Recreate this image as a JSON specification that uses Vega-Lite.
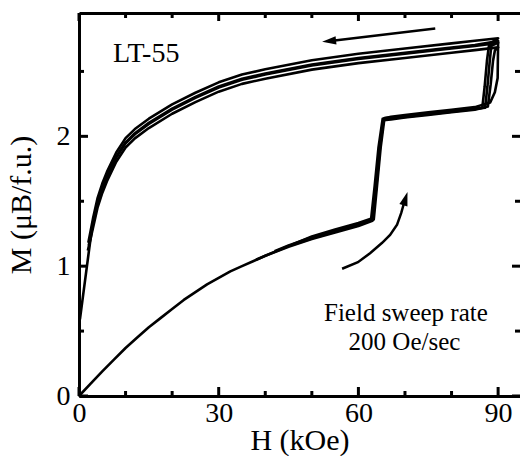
{
  "$schema": "https://vega.github.io/schema/vega-lite/v6.json",
  "autosize": "none",
  "width": 441,
  "height": 383,
  "padding": {"left": 79, "top": 13, "right": 0, "bottom": 60},
  "background": "white",
  "config": {
    "view": {"stroke": null},
    "font": "Liberation Serif",
    "axis": {
      "labelFont": "Liberation Serif",
      "titleFont": "Liberation Serif",
      "labelColor": "black",
      "titleColor": "black",
      "domainColor": "black",
      "labelFontWeight": "normal",
      "titleFontWeight": "normal",
      "labelFlush": false,
      "ticks": false,
      "grid": false
    },
    "tick": {"color": "black", "thickness": 3, "opacity": 1}
  },
  "datasets": {
    "hMajor": [{"H": 0}, {"H": 30}, {"H": 60}, {"H": 90}],
    "hMinor": [{"H": 10}, {"H": 20}, {"H": 40}, {"H": 50}, {"H": 70}, {"H": 80}],
    "mMajor": [{"M": 0}, {"M": 1}, {"M": 2}],
    "mMinor": [{"M": 0.5}, {"M": 1.5}, {"M": 2.5}]
  },
  "resolve": {"axis": {"x": "independent", "y": "independent"}},
  "layer": [
    {
      "data": {"name": "hMajor"},
      "mark": {"type": "tick", "orient": "vertical", "size": 9, "yOffset": -4.5},
      "encoding": {
        "x": {"field": "H", "type": "quantitative", "scale": {"domain": [0, 94.7], "nice": false, "zero": false}, "axis": null},
        "y": {"datum": 0, "type": "quantitative", "scale": {"domain": [0, 2.95], "nice": false, "zero": false}, "axis": null}
      }
    },
    {
      "data": {"name": "hMinor"},
      "mark": {"type": "tick", "orient": "vertical", "size": 5, "yOffset": -2.5},
      "encoding": {
        "x": {"field": "H", "type": "quantitative", "axis": null},
        "y": {"datum": 0, "type": "quantitative", "axis": null}
      }
    },
    {
      "data": {"name": "hMajor"},
      "mark": {"type": "tick", "orient": "vertical", "size": 8, "yOffset": 4},
      "encoding": {
        "x": {"field": "H", "type": "quantitative", "axis": null},
        "y": {"datum": 2.95, "type": "quantitative", "axis": null}
      }
    },
    {
      "data": {"name": "hMinor"},
      "mark": {"type": "tick", "orient": "vertical", "size": 5, "yOffset": 2.5},
      "encoding": {
        "x": {"field": "H", "type": "quantitative", "axis": null},
        "y": {"datum": 2.95, "type": "quantitative", "axis": null}
      }
    },
    {
      "data": {"name": "mMajor"},
      "mark": {"type": "tick", "orient": "horizontal", "size": 9, "xOffset": 4.5},
      "encoding": {
        "y": {"field": "M", "type": "quantitative", "axis": null},
        "x": {"datum": 0, "type": "quantitative", "axis": null}
      }
    },
    {
      "data": {"name": "mMinor"},
      "mark": {"type": "tick", "orient": "horizontal", "size": 5, "xOffset": 2.5},
      "encoding": {
        "y": {"field": "M", "type": "quantitative", "axis": null},
        "x": {"datum": 0, "type": "quantitative", "axis": null}
      }
    },
    {
      "data": {"name": "mMajor"},
      "mark": {"type": "tick", "orient": "horizontal", "size": 8, "xOffset": -4},
      "encoding": {
        "y": {"field": "M", "type": "quantitative", "axis": null},
        "x": {"datum": 94.7, "type": "quantitative", "axis": null}
      }
    },
    {
      "data": {"name": "mMinor"},
      "mark": {"type": "tick", "orient": "horizontal", "size": 5, "xOffset": -2.5},
      "encoding": {
        "y": {"field": "M", "type": "quantitative", "axis": null},
        "x": {"datum": 94.7, "type": "quantitative", "axis": null}
      }
    },
    {
      "data": {
        "values": [
          {"sweep": "s1", "i": 1, "H": 0, "M": 0},
          {"sweep": "s1", "i": 2, "H": 2.5, "M": 0.095},
          {"sweep": "s1", "i": 3, "H": 5, "M": 0.19},
          {"sweep": "s1", "i": 4, "H": 7.5, "M": 0.28},
          {"sweep": "s1", "i": 5, "H": 10, "M": 0.37},
          {"sweep": "s1", "i": 6, "H": 12.5, "M": 0.45},
          {"sweep": "s1", "i": 7, "H": 15, "M": 0.53},
          {"sweep": "s1", "i": 8, "H": 17.5, "M": 0.6},
          {"sweep": "s1", "i": 9, "H": 20, "M": 0.67},
          {"sweep": "s1", "i": 10, "H": 22.5, "M": 0.74},
          {"sweep": "s1", "i": 11, "H": 25, "M": 0.8},
          {"sweep": "s1", "i": 12, "H": 27.5, "M": 0.86},
          {"sweep": "s1", "i": 13, "H": 30, "M": 0.91},
          {"sweep": "s1", "i": 14, "H": 32.5, "M": 0.96},
          {"sweep": "s1", "i": 15, "H": 35, "M": 1.0},
          {"sweep": "s1", "i": 16, "H": 37.5, "M": 1.04},
          {"sweep": "s1", "i": 17, "H": 40, "M": 1.08},
          {"sweep": "s1", "i": 18, "H": 45, "M": 1.15},
          {"sweep": "s1", "i": 19, "H": 50, "M": 1.21},
          {"sweep": "s1", "i": 20, "H": 55, "M": 1.26},
          {"sweep": "s1", "i": 21, "H": 60, "M": 1.31},
          {"sweep": "s1", "i": 22, "H": 63, "M": 1.35},
          {"sweep": "s1", "i": 23, "H": 63.8, "M": 1.6},
          {"sweep": "s1", "i": 24, "H": 64.6, "M": 1.9},
          {"sweep": "s1", "i": 25, "H": 65.4, "M": 2.13},
          {"sweep": "s1", "i": 26, "H": 67, "M": 2.14},
          {"sweep": "s1", "i": 27, "H": 70, "M": 2.15},
          {"sweep": "s1", "i": 28, "H": 75, "M": 2.17},
          {"sweep": "s1", "i": 29, "H": 80, "M": 2.19},
          {"sweep": "s1", "i": 30, "H": 85, "M": 2.21},
          {"sweep": "s1", "i": 31, "H": 87.2, "M": 2.22},
          {"sweep": "s1", "i": 32, "H": 87.7, "M": 2.38},
          {"sweep": "s1", "i": 33, "H": 88.2, "M": 2.58},
          {"sweep": "s1", "i": 34, "H": 88.6, "M": 2.72},
          {"sweep": "s1", "i": 35, "H": 90, "M": 2.756},
          {"sweep": "s1", "i": 36, "H": 85, "M": 2.736},
          {"sweep": "s1", "i": 37, "H": 80, "M": 2.716},
          {"sweep": "s1", "i": 38, "H": 70, "M": 2.676},
          {"sweep": "s1", "i": 39, "H": 60, "M": 2.636},
          {"sweep": "s1", "i": 40, "H": 50, "M": 2.586},
          {"sweep": "s1", "i": 41, "H": 40, "M": 2.516},
          {"sweep": "s1", "i": 42, "H": 35, "M": 2.476},
          {"sweep": "s1", "i": 43, "H": 30, "M": 2.416},
          {"sweep": "s1", "i": 44, "H": 25, "M": 2.336},
          {"sweep": "s1", "i": 45, "H": 20, "M": 2.246},
          {"sweep": "s1", "i": 46, "H": 15, "M": 2.136},
          {"sweep": "s1", "i": 47, "H": 12, "M": 2.056},
          {"sweep": "s1", "i": 48, "H": 10, "M": 1.986},
          {"sweep": "s1", "i": 49, "H": 8, "M": 1.876},
          {"sweep": "s1", "i": 50, "H": 6, "M": 1.726},
          {"sweep": "s1", "i": 51, "H": 5, "M": 1.636},
          {"sweep": "s1", "i": 52, "H": 4, "M": 1.526},
          {"sweep": "s1", "i": 53, "H": 3, "M": 1.366},
          {"sweep": "s1", "i": 54, "H": 2, "M": 1.18},

          {"sweep": "s2", "i": 1, "H": 38, "M": 1.05},
          {"sweep": "s2", "i": 2, "H": 45, "M": 1.155},
          {"sweep": "s2", "i": 3, "H": 50, "M": 1.215},
          {"sweep": "s2", "i": 4, "H": 55, "M": 1.268},
          {"sweep": "s2", "i": 5, "H": 60, "M": 1.318},
          {"sweep": "s2", "i": 6, "H": 63.3, "M": 1.36},
          {"sweep": "s2", "i": 7, "H": 64.0, "M": 1.62},
          {"sweep": "s2", "i": 8, "H": 64.8, "M": 1.92},
          {"sweep": "s2", "i": 9, "H": 65.6, "M": 2.14},
          {"sweep": "s2", "i": 10, "H": 67, "M": 2.145},
          {"sweep": "s2", "i": 11, "H": 70, "M": 2.155},
          {"sweep": "s2", "i": 12, "H": 75, "M": 2.175},
          {"sweep": "s2", "i": 13, "H": 80, "M": 2.195},
          {"sweep": "s2", "i": 14, "H": 85, "M": 2.215},
          {"sweep": "s2", "i": 15, "H": 86.6, "M": 2.22},
          {"sweep": "s2", "i": 16, "H": 87.1, "M": 2.38},
          {"sweep": "s2", "i": 17, "H": 87.6, "M": 2.58},
          {"sweep": "s2", "i": 18, "H": 88.0, "M": 2.69},
          {"sweep": "s2", "i": 19, "H": 90, "M": 2.72},
          {"sweep": "s2", "i": 20, "H": 85, "M": 2.696},
          {"sweep": "s2", "i": 21, "H": 80, "M": 2.676},
          {"sweep": "s2", "i": 22, "H": 70, "M": 2.636},
          {"sweep": "s2", "i": 23, "H": 60, "M": 2.596},
          {"sweep": "s2", "i": 24, "H": 50, "M": 2.546},
          {"sweep": "s2", "i": 25, "H": 40, "M": 2.476},
          {"sweep": "s2", "i": 26, "H": 35, "M": 2.436},
          {"sweep": "s2", "i": 27, "H": 30, "M": 2.376},
          {"sweep": "s2", "i": 28, "H": 25, "M": 2.296},
          {"sweep": "s2", "i": 29, "H": 20, "M": 2.206},
          {"sweep": "s2", "i": 30, "H": 15, "M": 2.096},
          {"sweep": "s2", "i": 31, "H": 12, "M": 2.016},
          {"sweep": "s2", "i": 32, "H": 10, "M": 1.946},
          {"sweep": "s2", "i": 33, "H": 8, "M": 1.836},
          {"sweep": "s2", "i": 34, "H": 6, "M": 1.686},
          {"sweep": "s2", "i": 35, "H": 5, "M": 1.596},
          {"sweep": "s2", "i": 36, "H": 4, "M": 1.486},
          {"sweep": "s2", "i": 37, "H": 3, "M": 1.326},
          {"sweep": "s2", "i": 38, "H": 2.1, "M": 1.16},

          {"sweep": "s3", "i": 1, "H": 42, "M": 1.115},
          {"sweep": "s3", "i": 2, "H": 45, "M": 1.16},
          {"sweep": "s3", "i": 3, "H": 50, "M": 1.222},
          {"sweep": "s3", "i": 4, "H": 55, "M": 1.275},
          {"sweep": "s3", "i": 5, "H": 60, "M": 1.325},
          {"sweep": "s3", "i": 6, "H": 62.7, "M": 1.355},
          {"sweep": "s3", "i": 7, "H": 63.5, "M": 1.62},
          {"sweep": "s3", "i": 8, "H": 64.3, "M": 1.91},
          {"sweep": "s3", "i": 9, "H": 65.2, "M": 2.135},
          {"sweep": "s3", "i": 10, "H": 67, "M": 2.15},
          {"sweep": "s3", "i": 11, "H": 70, "M": 2.165},
          {"sweep": "s3", "i": 12, "H": 75, "M": 2.185},
          {"sweep": "s3", "i": 13, "H": 80, "M": 2.205},
          {"sweep": "s3", "i": 14, "H": 85, "M": 2.225},
          {"sweep": "s3", "i": 15, "H": 88.3, "M": 2.26},
          {"sweep": "s3", "i": 16, "H": 89.3, "M": 2.34},
          {"sweep": "s3", "i": 17, "H": 89.9, "M": 2.45},
          {"sweep": "s3", "i": 18, "H": 90, "M": 2.735},
          {"sweep": "s3", "i": 19, "H": 85, "M": 2.704},
          {"sweep": "s3", "i": 20, "H": 80, "M": 2.684},
          {"sweep": "s3", "i": 21, "H": 70, "M": 2.644},
          {"sweep": "s3", "i": 22, "H": 60, "M": 2.604},
          {"sweep": "s3", "i": 23, "H": 50, "M": 2.554},
          {"sweep": "s3", "i": 24, "H": 40, "M": 2.484},
          {"sweep": "s3", "i": 25, "H": 35, "M": 2.444},
          {"sweep": "s3", "i": 26, "H": 30, "M": 2.384},
          {"sweep": "s3", "i": 27, "H": 25, "M": 2.304},
          {"sweep": "s3", "i": 28, "H": 20, "M": 2.214},
          {"sweep": "s3", "i": 29, "H": 15, "M": 2.104},
          {"sweep": "s3", "i": 30, "H": 12, "M": 2.024},
          {"sweep": "s3", "i": 31, "H": 10, "M": 1.954},
          {"sweep": "s3", "i": 32, "H": 8, "M": 1.844},
          {"sweep": "s3", "i": 33, "H": 6, "M": 1.694},
          {"sweep": "s3", "i": 34, "H": 5, "M": 1.604},
          {"sweep": "s3", "i": 35, "H": 4, "M": 1.494},
          {"sweep": "s3", "i": 36, "H": 3, "M": 1.334},
          {"sweep": "s3", "i": 37, "H": 2.4, "M": 1.19},
          {"sweep": "s3", "i": 38, "H": 0.2, "M": 0.59},

          {"sweep": "s4", "i": 1, "H": 46, "M": 1.17},
          {"sweep": "s4", "i": 2, "H": 50, "M": 1.228},
          {"sweep": "s4", "i": 3, "H": 55, "M": 1.282},
          {"sweep": "s4", "i": 4, "H": 60, "M": 1.332},
          {"sweep": "s4", "i": 5, "H": 63.0, "M": 1.37},
          {"sweep": "s4", "i": 6, "H": 63.8, "M": 1.64},
          {"sweep": "s4", "i": 7, "H": 64.6, "M": 1.93},
          {"sweep": "s4", "i": 8, "H": 65.4, "M": 2.125},
          {"sweep": "s4", "i": 9, "H": 67, "M": 2.13},
          {"sweep": "s4", "i": 10, "H": 70, "M": 2.145},
          {"sweep": "s4", "i": 11, "H": 75, "M": 2.165},
          {"sweep": "s4", "i": 12, "H": 80, "M": 2.185},
          {"sweep": "s4", "i": 13, "H": 85, "M": 2.205},
          {"sweep": "s4", "i": 14, "H": 87.8, "M": 2.23},
          {"sweep": "s4", "i": 15, "H": 88.4, "M": 2.4},
          {"sweep": "s4", "i": 16, "H": 88.9, "M": 2.58},
          {"sweep": "s4", "i": 17, "H": 89.3, "M": 2.66},
          {"sweep": "s4", "i": 18, "H": 90, "M": 2.685},
          {"sweep": "s4", "i": 19, "H": 85, "M": 2.664},
          {"sweep": "s4", "i": 20, "H": 80, "M": 2.644},
          {"sweep": "s4", "i": 21, "H": 70, "M": 2.604},
          {"sweep": "s4", "i": 22, "H": 60, "M": 2.564},
          {"sweep": "s4", "i": 23, "H": 50, "M": 2.514},
          {"sweep": "s4", "i": 24, "H": 40, "M": 2.444},
          {"sweep": "s4", "i": 25, "H": 35, "M": 2.404},
          {"sweep": "s4", "i": 26, "H": 30, "M": 2.344},
          {"sweep": "s4", "i": 27, "H": 25, "M": 2.264},
          {"sweep": "s4", "i": 28, "H": 20, "M": 2.174},
          {"sweep": "s4", "i": 29, "H": 15, "M": 2.064},
          {"sweep": "s4", "i": 30, "H": 12, "M": 1.984},
          {"sweep": "s4", "i": 31, "H": 10, "M": 1.914},
          {"sweep": "s4", "i": 32, "H": 8, "M": 1.804},
          {"sweep": "s4", "i": 33, "H": 6, "M": 1.654},
          {"sweep": "s4", "i": 34, "H": 5, "M": 1.564},
          {"sweep": "s4", "i": 35, "H": 4, "M": 1.454},
          {"sweep": "s4", "i": 36, "H": 3, "M": 1.294},
          {"sweep": "s4", "i": 37, "H": 1.9, "M": 1.12}
        ]
      },
      "mark": {"type": "line", "color": "black", "strokeWidth": 2.6, "strokeJoin": "round"},
      "encoding": {
        "x": {
          "field": "H", "type": "quantitative",
          "axis": {
            "orient": "bottom", "values": [0, 30, 60, 90], "domainWidth": 3,
            "labelFontSize": 28, "labelPadding": 3,
            "title": "H (kOe)", "titleFontSize": 30, "titlePadding": -2
          }
        },
        "y": {
          "field": "M", "type": "quantitative",
          "axis": {
            "orient": "left", "values": [0, 1, 2], "domainWidth": 3,
            "labelFontSize": 28, "labelPadding": 9,
            "title": "M (μB/f.u.)", "titleFontSize": 30, "titlePadding": 20
          }
        },
        "detail": {"field": "sweep"},
        "order": {"field": "i", "type": "quantitative"}
      }
    },
    {
      "data": {
        "values": [
          {"i": 1, "H": 76.5, "M": 2.83},
          {"i": 2, "H": 54.0, "M": 2.735}
        ]
      },
      "mark": {"type": "line", "color": "black", "strokeWidth": 2.5},
      "encoding": {
        "x": {
          "field": "H", "type": "quantitative",
          "axis": {"orient": "top", "domainWidth": 3, "labels": false, "title": null}
        },
        "y": {"field": "M", "type": "quantitative", "axis": null},
        "order": {"field": "i", "type": "quantitative"}
      }
    },
    {
      "data": {
        "values": [
          {"i": 1, "H": 56.5, "M": 0.98},
          {"i": 2, "H": 59.9, "M": 1.03},
          {"i": 3, "H": 62.5, "M": 1.1},
          {"i": 4, "H": 65.1, "M": 1.18},
          {"i": 5, "H": 66.8, "M": 1.24},
          {"i": 6, "H": 68.3, "M": 1.32},
          {"i": 7, "H": 69.2, "M": 1.41},
          {"i": 8, "H": 69.9, "M": 1.5}
        ]
      },
      "mark": {"type": "line", "color": "black", "strokeWidth": 2.5},
      "encoding": {
        "x": {"field": "H", "type": "quantitative", "axis": null},
        "y": {"field": "M", "type": "quantitative", "axis": null},
        "order": {"field": "i", "type": "quantitative"}
      }
    },
    {
      "data": {
        "values": [
          {"arrow": "down", "H": 53.7, "M": 2.734, "dir": 264},
          {"arrow": "up", "H": 70.1, "M": 1.52, "dir": 17}
        ]
      },
      "mark": {
        "type": "point", "filled": true, "color": "black", "opacity": 1,
        "shape": "M0,-1L0.6,1L-0.6,1Z", "size": 196
      },
      "encoding": {
        "x": {"field": "H", "type": "quantitative", "axis": null},
        "y": {"field": "M", "type": "quantitative", "axis": null},
        "angle": {"field": "dir", "type": "quantitative", "scale": null}
      }
    },
    {
      "data": {"values": [{"label": "LT-55", "H": 7.3, "M": 2.575}]},
      "mark": {"type": "text", "align": "left", "baseline": "alphabetic", "fontSize": 28, "font": "Liberation Serif", "color": "black"},
      "encoding": {
        "x": {"field": "H", "type": "quantitative", "axis": null},
        "y": {"field": "M", "type": "quantitative", "axis": null},
        "text": {"field": "label"}
      }
    },
    {
      "data": {
        "values": [
          {"label": "Field sweep rate", "H": 70.2, "M": 0.58},
          {"label": "200 Oe/sec", "H": 69.9, "M": 0.357}
        ]
      },
      "mark": {"type": "text", "align": "center", "baseline": "alphabetic", "fontSize": 25, "font": "Liberation Serif", "color": "black"},
      "encoding": {
        "x": {"field": "H", "type": "quantitative", "axis": null},
        "y": {"field": "M", "type": "quantitative", "axis": null},
        "text": {"field": "label"}
      }
    }
  ]
}
